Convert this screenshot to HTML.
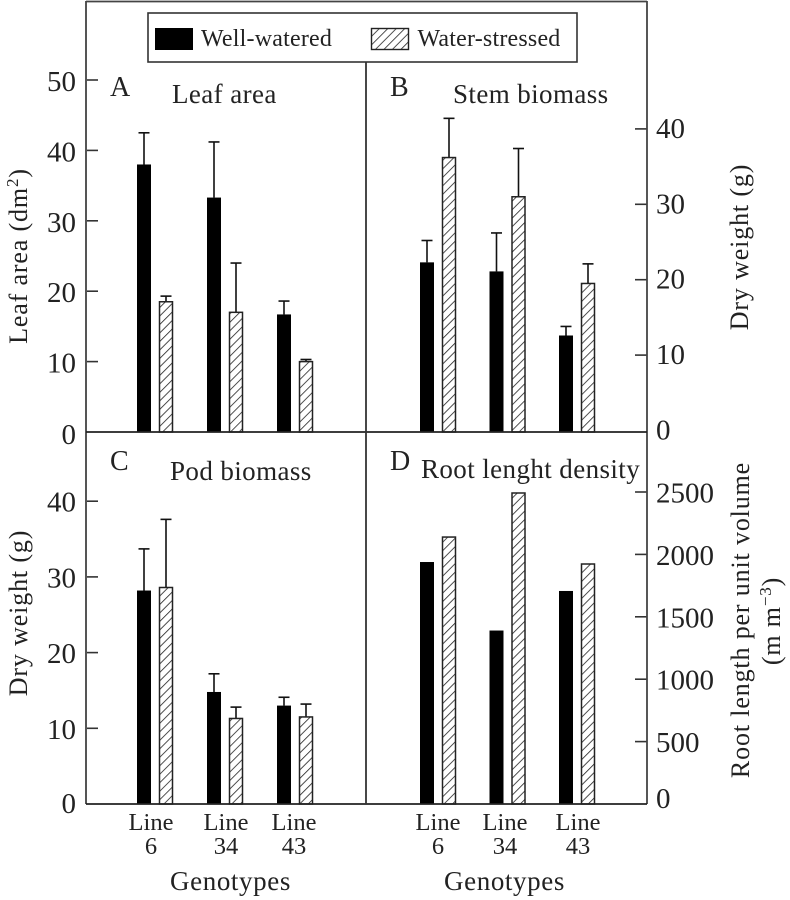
<!DOCTYPE html>
<html>
<head>
<meta charset="utf-8">
<title>Dry weight by genotype</title>
<style>
html,body{margin:0;padding:0;background:#fff;}
svg{display:block;}
text{font-family:"Liberation Serif",serif;fill:#222;}
.tick{font-size:29px;}
.title{font-size:27px;letter-spacing:.4px;}
.letter{font-size:28px;}
.axis{font-size:26px;letter-spacing:.85px;}
.geno{font-size:27px;letter-spacing:.6px;}
.cat{font-size:24.5px;}
.leg{font-size:24px;letter-spacing:.2px;}
</style>
</head>
<body>
<svg id="chart" width="790" height="900" viewBox="0 0 790 900" xmlns="http://www.w3.org/2000/svg">
<defs>
<pattern id="hatch" patternUnits="userSpaceOnUse" width="6" height="6" patternTransform="rotate(45)">
<rect width="6" height="6" fill="#fff"></rect>
<line x1="0" y1="0" x2="0" y2="6" stroke="#222" stroke-width="1.6"></line>
</pattern>
</defs>
</svg>
<script>
var categories = ['Line 6', 'Line 34', 'Line 43'];
var seriesNames = ['Well-watered', 'Water-stressed'];

var leafWell = [38, 33.3, 16.7];
var leafStress = [18.5, 17, 10];
var leafWellTop = [42.5, 41.2, 18.6];
var leafStressTop = [19.3, 24, 10.3];
var leafTicks = [0, 10, 20, 30, 40, 50];

var stemWell = [22.3, 21.1, 12.6];
var stemStress = [36.2, 31, 19.5];
var stemWellTop = [25.2, 26.2, 13.8];
var stemStressTop = [41.4, 37.4, 22.1];
var stemTicks = [0, 10, 20, 30, 40];

var podWell = [28.2, 14.8, 13];
var podStress = [28.6, 11.3, 11.5];
var podWellTop = [33.7, 17.2, 14.1];
var podStressTop = [37.6, 12.8, 13.2];
var podTicks = [0, 10, 20, 30, 40];

var rootWell = [1939, 1390, 1707];
var rootStress = [2139, 2492, 1923];
var rootTicks = [0, 500, 1000, 1500, 2000, 2500];

var svg = document.getElementById('chart');
var NS = 'http://www.w3.org/2000/svg';

function make(tag, attrs, text) {
  var el = document.createElementNS(NS, tag);
  for (var k in attrs) el.setAttribute(k, attrs[k]);
  if (text !== undefined) el.textContent = text;
  svg.appendChild(el);
  return el;
}

function scale(base, perUnit) {
  return function (v) { return base - v * perUnit; };
}

var xLeft = function (group, series) { return 137 + group * 70 + series * 22; };
var xRight = function (group, series) { return 420 + group * 69.5 + series * 22; };

function drawPanel(p) {
  var ns = [p.well, p.stress];
  var tops = [p.wellTop, p.stressTop];
  for (var s = 0; s < 2; s++) {
    for (var g = 0; g < categories.length; g++) {
      var x = p.x(g, s);
      var y = p.y(ns[s][g]);
      if (tops[s]) {
        var cx = x + 7;
        var ty = p.y(tops[s][g]);
        var stem = make('line', {x1: cx, x2: cx, y1: y, y2: ty, stroke: '#111', 'stroke-width': 1.6});
        
        
        var cap = make('line', {x1: cx - 5.5, x2: cx + 5.5, y1: ty, y2: ty, stroke: '#111', 'stroke-width': 1.6});
        
        
      }
      var bar = make('rect', {
        x: s ? x + .5 : x, y: y, width: s ? 13 : 14, height: Math.max(0, p.base - y),
        fill: s ? 'url(#hatch)' : '#000',
        stroke: s ? '#222' : 'none', 'stroke-width': s ? 1.5 : 0
      });
      
      
    }
  }
  p.ticks.forEach(function (t) {
    var ty = p.y(t);
    if (t !== 0) {
      var mark = make('line', {
        x1: p.side === 'left' ? 86 : 635, x2: p.side === 'left' ? 98 : 647,
        y1: ty, y2: ty, stroke: '#333', 'stroke-width': 1.6
      });
      
      
    }
    var label = make('text', {
      class: 'tick', x: p.side === 'left' ? 76 : 656, y: ty + p.offset + (t === 0 ? p.zeroShift : 0),
      'text-anchor': p.side === 'left' ? 'end' : 'start'
    }, String(t));
    
    
  });
}

var panels = [
  {id: 'leaf-area', side: 'left', base: 432, offset: 11, zeroShift: 1, x: xLeft, y: scale(432, 7.04), ticks: leafTicks, well: leafWell, stress: leafStress, wellTop: leafWellTop, stressTop: leafStressTop},
  {id: 'stem-biomass', side: 'right', base: 432, offset: 9, zeroShift: 0, x: xRight, y: scale(430.5, 7.54), ticks: stemTicks, well: stemWell, stress: stemStress, wellTop: stemWellTop, stressTop: stemStressTop},
  {id: 'pod-biomass', side: 'left', base: 804, offset: 10.5, zeroShift: -1.5, x: xLeft, y: scale(804, 7.57), ticks: podTicks, well: podWell, stress: podStress, wellTop: podWellTop, stressTop: podStressTop},
  {id: 'root-density', side: 'right', base: 804, offset: 10.5, zeroShift: -6.5, x: xRight, y: scale(804, 0.1248), ticks: rootTicks, well: rootWell, stress: rootStress}
];
panels.forEach(drawPanel);

var frameLines = [
  ['frame-left', 86, 1, 86, 804, '#555', 2],
  ['frame-right', 647, 1, 647, 804, '#444', 1.8],
  ['frame-top', 86, 1.5, 647, 1.5, '#444', 1.8],
  ['frame-bottom', 86, 804, 647, 804, '#222', 1.8],
  ['frame-middle-horizontal', 86, 432, 647, 432, '#222', 1.8],
  ['frame-middle-vertical', 366, 62, 366, 804, '#333', 1.8]
];
frameLines.forEach(function (f) {
  var line = make('line', {x1: f[1], y1: f[2], x2: f[3], y2: f[4], stroke: f[5], 'stroke-width': f[6]});
  
  
});

var legend = make('rect', {x: 148, y: 13, width: 429, height: 49, fill: '#fff', stroke: '#333', 'stroke-width': 1.6});


var swatch1 = make('rect', {x: 155, y: 28, width: 38, height: 22, fill: '#000'});


var legend1 = make('text', {class: 'leg', x: 201, y: 46}, seriesNames[0]);


var swatch2 = make('rect', {x: 371.5, y: 28.5, width: 37, height: 21, fill: 'url(#hatch)', stroke: '#222', 'stroke-width': 1.4});


var legend2 = make('text', {class: 'leg', x: 417.5, y: 46}, seriesNames[1]);



var titles = [
  ['panel-letter-a', 'letter', 'A', 110, 96],
  ['panel-title-a', 'title', 'Leaf area', 172, 103],
  ['panel-letter-b', 'letter', 'B', 390, 96],
  ['panel-title-b', 'title', 'Stem biomass', 453, 103],
  ['panel-letter-c', 'letter', 'C', 110, 470],
  ['panel-title-c', 'title', 'Pod biomass', 170, 480],
  ['panel-letter-d', 'letter', 'D', 390, 470],
  ['panel-title-d', 'title', 'Root lenght density', 421, 478]
];
titles.forEach(function (t) {
  var label = make('text', {class: t[1], x: t[3], y: t[4]}, t[2]);
  
  
});

var catCentersLeft = [151, 226, 294];
var catCentersRight = [438, 505, 578];
function drawCats(centers, id) {
  categories.forEach(function (c, i) {
    var parts = c.split(' ');
    var a = make('text', {class: 'cat', x: centers[i], y: 830, 'text-anchor': 'middle'}, parts[0]);
    
    
    var b = make('text', {class: 'cat', x: centers[i], y: 854, 'text-anchor': 'middle'}, parts[1]);
    
    
  });
}
drawCats(catCentersLeft, 'pod-biomass');
drawCats(catCentersRight, 'root-density');

var g1 = make('text', {class: 'geno', x: 230.5, y: 890, 'text-anchor': 'middle'}, 'Genotypes');


var g2 = make('text', {class: 'geno', x: 504.5, y: 890, 'text-anchor': 'middle'}, 'Genotypes');



function rotated(name, x, y, txt, sup) {
  var el = make('text', {class: 'axis', transform: 'translate(' + x + ',' + y + ') rotate(-90)', 'text-anchor': 'middle'});
  
  
  el.appendChild(document.createTextNode(txt[0]));
  if (sup) {
    var s = document.createElementNS(NS, 'tspan');
    s.setAttribute('font-size', '17');
    s.setAttribute('dy', '-9');
    s.textContent = sup;
    el.appendChild(s);
    var r = document.createElementNS(NS, 'tspan');
    r.setAttribute('dy', '9');
    r.textContent = txt[1];
    el.appendChild(r);
  }
  return el;
}
rotated('y-axis-title-leaf-area', 27, 256, ['Leaf area (dm', ')'], '2');
rotated('y-axis-title-stem-biomass', 748, 247, ['Dry weight (g)']);
rotated('y-axis-title-pod-biomass', 27, 613, ['Dry weight (g)']);
rotated('y-axis-title-root-density', 749, 620, ['Root length per unit volume']);
rotated('y-axis-subtitle-root-density', 780, 621, ['(m m', ')'], '\u22123');
</script>
</body>
</html>
